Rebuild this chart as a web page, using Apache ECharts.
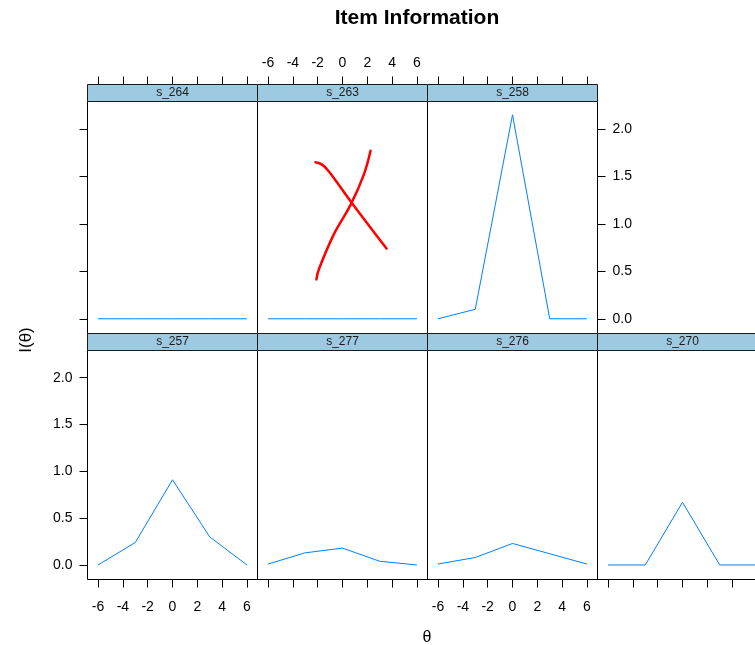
<!DOCTYPE html>
<html>
<head>
<meta charset="utf-8">
<title>Item Information</title>
<script src="https://cdn.jsdelivr.net/npm/echarts@6/dist/echarts.min.js"></script>
<style>
  html, body { margin: 0; padding: 0; background: #fff; }
  #chart { width: 755px; height: 645px; }
</style>
</head>
<body>
<div id="chart"></div>
<script>
// Ability grid at which item information was evaluated
const theta = [-6, -3, 0, 3, 6];

// Panel names, in lattice order (bottom row left→right, then top row)
const topItems = ['s_264', 's_263', 's_258'];
const bottomItems = ['s_257', 's_277', 's_276', 's_270'];

// Item information values I(θ) per item
const info_s264 = [0.00, 0.00, 0.00, 0.00, 0.00];
const info_s263 = [0.00, 0.00, 0.00, 0.00, 0.00];
const info_s258 = [0.00, 0.10, 2.15, 0.00, 0.00];
const info_s257 = [0.00, 0.24, 0.91, 0.30, 0.00];
const info_s277 = [0.01, 0.13, 0.18, 0.04, 0.00];
const info_s276 = [0.01, 0.08, 0.23, 0.12, 0.01];
const info_s270 = [0.00, 0.00, 0.67, 0.00, 0.00];

// Hand-drawn red cross over panel s_263 (θ, I) pairs
const crossStrokeA = [[-2.18, 1.65], [-1.64, 1.625], [-1.11, 1.555], [0.65, 1.24], [3.55, 0.74]];
const crossStrokeB = [[-2.10, 0.415], [-1.91, 0.52], [-0.70, 0.89], [0.65, 1.20], [1.72, 1.52], [2.26, 1.77]];

// Axis ticks
const xTicks = [-6, -4, -2, 0, 2, 4, 6];
const yTicks = [0, 0.5, 1.0, 1.5, 2.0];

const infoByItem = {
  s_264: info_s264, s_263: info_s263, s_258: info_s258,
  s_257: info_s257, s_277: info_s277, s_276: info_s276, s_270: info_s270
};

const FONT = "'Liberation Sans Narrow', 'Arial Narrow', 'Liberation Sans', Arial, sans-serif";
const LINE_COL = '#0080FF';
const STRIP_COL = '#9ECAE1';

// Layout of the lattice (half-pixel offsets keep the 1px frames crisp)
const colLeft = 87.5, colW = 170, stripH = 17;
const topRowTop = 84.5, topRowBottom = 333.5;
const botRowTop = 333.5, botRowBottom = 579.5;
const X_MIN = -6.85, X_MAX = 6.85, Y_MIN = -0.155, Y_MAX = 2.29;

const grids = [], xAxes = [], yAxes = [], series = [], graphics = [];

function addPanel(name, row, col, opts) {
  const idx = grids.length;
  const boxTop = row === 0 ? topRowTop : botRowTop;
  const boxBottom = row === 0 ? topRowBottom : botRowBottom;
  const left = colLeft + col * colW;
  grids.push({
    left: left, top: boxTop + stripH, width: colW, height: boxBottom - boxTop - stripH,
    show: true, borderColor: '#000', borderWidth: 1, backgroundColor: 'transparent',
    outerBoundsMode: 'none', containLabel: false
  });
  xAxes.push({
    type: 'value', gridIndex: idx, min: X_MIN, max: X_MAX,
    position: row === 0 ? 'top' : 'bottom',
    offset: row === 0 ? stripH : 0,
    axisLine: { show: false, onZero: false },
    splitLine: { show: false },
    axisTick: { show: opts.xTicks, length: 8, lineStyle: { color: '#000', width: 1 }, customValues: xTicks },
    axisLabel: {
      show: opts.xLabels, customValues: xTicks, margin: row === 0 ? 14 : 21,
      color: '#000', fontFamily: FONT, fontSize: 14,
      formatter: v => String(v)
    }
  });
  yAxes.push({
    type: 'value', gridIndex: idx, min: Y_MIN, max: Y_MAX,
    position: opts.yPos || 'left',
    axisLine: { show: false, onZero: false },
    splitLine: { show: false },
    axisTick: { show: !!opts.yTicks, length: 8, lineStyle: { color: '#000', width: 1 }, customValues: yTicks },
    axisLabel: {
      show: !!opts.yLabels, customValues: yTicks, margin: 15,
      color: '#000', fontFamily: FONT, fontSize: 14,
      formatter: v => v.toFixed(1)
    }
  });
  const vals = infoByItem[name];
  series.push({
    type: 'line', xAxisIndex: idx, yAxisIndex: idx,
    data: theta.map((t, i) => [t, vals[i]]),
    showSymbol: false, silent: true, clip: true,
    lineStyle: { color: LINE_COL, width: 1 }
  });
  // strip with the item name
  graphics.push({
    type: 'rect', z: 10,
    shape: { x: left, y: boxTop, width: colW, height: stripH },
    style: { fill: STRIP_COL, stroke: '#1a1a1a', lineWidth: 1 }
  });
  graphics.push({
    type: 'text', z: 11, x: left + colW / 2, y: boxTop + stripH / 2,
    style: {
      text: name, fill: '#1a1a1a', font: '12px ' + FONT,
      textAlign: 'center', textVerticalAlign: 'middle'
    }
  });
  return idx;
}

// bottom row
addPanel('s_257', 1, 0, { xTicks: true, xLabels: true, yTicks: true, yLabels: true, yPos: 'left' });
addPanel('s_277', 1, 1, { xTicks: true, xLabels: false });
addPanel('s_276', 1, 2, { xTicks: true, xLabels: true });
addPanel('s_270', 1, 3, { xTicks: true, xLabels: false, yTicks: true, yLabels: false, yPos: 'right' });
// top row
addPanel('s_264', 0, 0, { xTicks: true, xLabels: false, yTicks: true, yLabels: false, yPos: 'left' });
const crossPanel = addPanel('s_263', 0, 1, { xTicks: true, xLabels: true });
addPanel('s_258', 0, 2, { xTicks: true, xLabels: false, yTicks: true, yLabels: true, yPos: 'right' });

[crossStrokeA, crossStrokeB].forEach(stroke => {
  series.push({
    type: 'line', xAxisIndex: crossPanel, yAxisIndex: crossPanel,
    data: stroke, smooth: 0.4, showSymbol: false, silent: true, z: 5,
    lineStyle: { color: '#FF0000', width: 2.5, cap: 'round', join: 'round' }
  });
});

// title and axis titles
graphics.push({
  type: 'text', x: 417, y: 18,
  style: { text: 'Item Information', font: 'bold 21px ' + FONT, fill: '#000', textAlign: 'center', textVerticalAlign: 'middle' }
});
graphics.push({
  type: 'text', x: 26, y: 340, rotation: Math.PI / 2,
  style: { text: 'I(θ)', font: '17px ' + FONT, fill: '#000', textAlign: 'center', textVerticalAlign: 'middle' }
});
graphics.push({
  type: 'text', x: 427, y: 638,
  style: { text: 'θ', font: '16px ' + FONT, fill: '#000', textAlign: 'center', textVerticalAlign: 'middle' }
});

const chart = echarts.init(document.getElementById('chart'), null, { renderer: 'canvas' });
chart.setOption({
  animation: false,
  backgroundColor: '#fff',
  grid: grids,
  xAxis: xAxes,
  yAxis: yAxes,
  series: series,
  graphic: graphics
});
</script>
</body>
</html>
